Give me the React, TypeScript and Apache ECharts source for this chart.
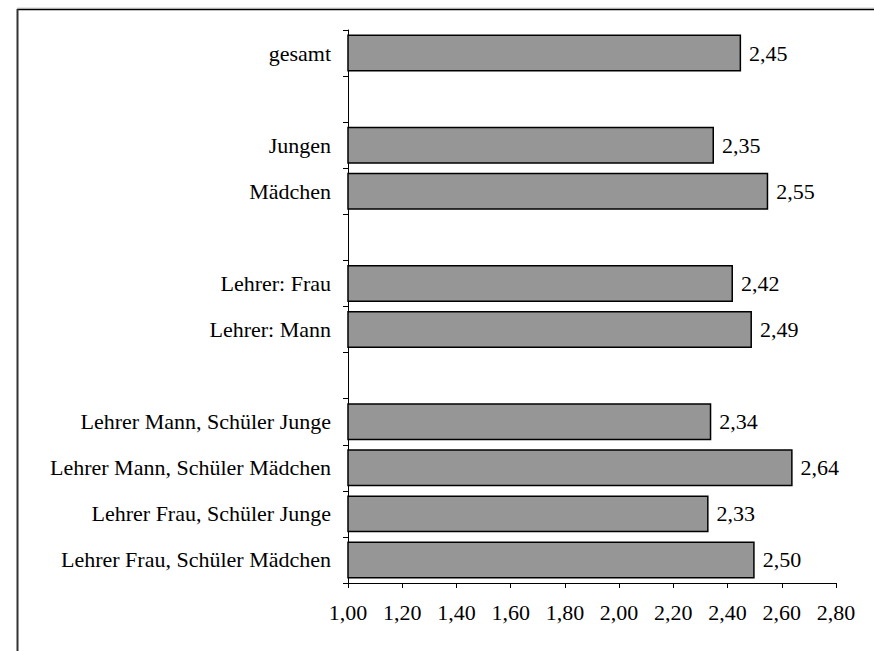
import React, { useEffect, useRef } from "react";
import * as echarts from "echarts";

const categories = [
  "gesamt",
  " ",
  "Jungen",
  "Mädchen",
  "  ",
  "Lehrer: Frau",
  "Lehrer: Mann",
  "   ",
  "Lehrer Mann, Schüler Junge",
  "Lehrer Mann, Schüler Mädchen",
  "Lehrer Frau, Schüler Junge",
  "Lehrer Frau, Schüler Mädchen",
];
const values: (number | null)[] = [2.45, null, 2.35, 2.55, null, 2.42, 2.49, null, 2.34, 2.64, 2.33, 2.5];
const xMin = 1.0;
const xMax = 2.8;
const xStep = 0.2;

const fmt = (v: number) => v.toFixed(2).replace(".", ",");

export default function App() {
  const ref = useRef<HTMLDivElement>(null);
  useEffect(() => {
    if (!ref.current) return;
    const chart = echarts.init(ref.current, null, { renderer: "svg" });
    const font = "'Liberation Serif', 'Times New Roman', 'DejaVu Serif', serif";
    chart.setOption({
      animation: false,
      backgroundColor: "#ffffff",
      grid: { left: 348, right: 38, top: 30, bottom: 68, containLabel: false },
      xAxis: {
        type: "value",
        min: xMin,
        max: xMax,
        interval: xStep,
        splitLine: { show: false },
        axisLine: { show: true, lineStyle: { color: "#000", width: 1 } },
        axisTick: { show: true, length: 5, lineStyle: { color: "#000" } },
        axisLabel: {
          formatter: (v: number) => fmt(v),
          color: "#000",
          fontFamily: font,
          fontSize: 22,
          margin: 18,
        },
      },
      yAxis: {
        type: "category",
        data: categories,
        inverse: true,
        axisLine: { show: true, lineStyle: { color: "#000", width: 1 } },
        axisTick: { show: true, length: 5, alignWithLabel: false, lineStyle: { color: "#000" } },
        axisLabel: {
          color: "#000",
          fontFamily: font,
          fontSize: 22,
          margin: 17,
        },
      },
      series: [
        {
          type: "bar",
          data: values,
          barCategoryGap: "20%",
          itemStyle: { color: "#969696", borderColor: "#000", borderWidth: 1.5 },
          label: {
            show: true,
            position: "right",
            distance: 8,
            formatter: (p: any) => fmt(p.value),
            color: "#000",
            fontFamily: font,
            fontSize: 22,
          },
        },
      ],
      graphic: [
        { type: "line", shape: { x1: 17, y1: 8, x2: 874, y2: 8 }, style: { stroke: "#d0d0d0", lineWidth: 1 } },
        { type: "line", shape: { x1: 17, y1: 9.5, x2: 874, y2: 9.5 }, style: { stroke: "#000", lineWidth: 1.5 } },
        { type: "line", shape: { x1: 17.5, y1: 9, x2: 17.5, y2: 651 }, style: { stroke: "#333", lineWidth: 2 } },
      ],
    });
    return () => chart.dispose();
  }, []);
  return (
    <div
      ref={ref}
      style={{ position: "fixed", left: 0, top: 0, width: 874, height: 651 }}
    />
  );
}
